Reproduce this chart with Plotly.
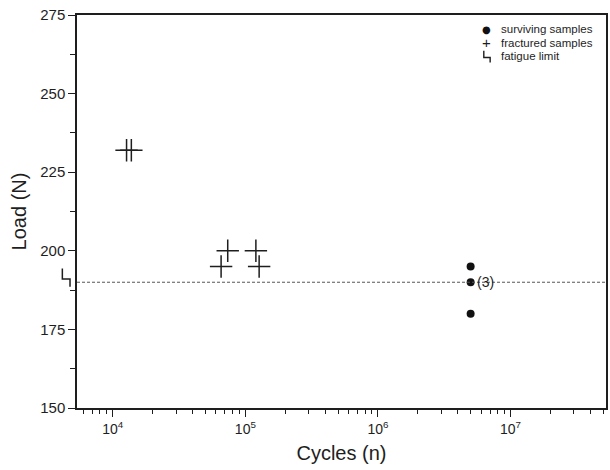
import math
import plotly.graph_objects as go

# ---- data ----
fractured_cycles = [12700, 13800, 73600, 120000, 65600, 127000]
fractured_load = [232, 232, 200, 200, 195, 195]
surviving_cycles = [5.0e6, 5.0e6, 5.0e6]
surviving_load = [195, 190, 180]
fatigue_limit = 190
runout_label = "(3)"

y_ticks = [150, 175, 200, 225, 250, 275]
x_ticks = [1e4, 1e5, 1e6, 1e7]
x_ticktext = ["10<sup>4</sup>", "10<sup>5</sup>", "10<sup>6</sup>", "10<sup>7</sup>"]
legend_labels = ["surviving samples", "fractured samples", "fatigue limit"]

FONT = "Liberation Sans, Arial, sans-serif"
INK = "#1e1e1e"

fig = go.Figure()

fig.add_trace(go.Scatter(
    x=fractured_cycles, y=fractured_load, mode="markers",
    marker=dict(symbol="cross-thin", size=16, line=dict(color=INK, width=1.5)),
    showlegend=False, hoverinfo="x+y"))

fig.add_trace(go.Scatter(
    x=surviving_cycles, y=surviving_load, mode="markers",
    marker=dict(symbol="circle", size=8, color="#111111"),
    showlegend=False, hoverinfo="x+y"))

# fatigue limit line
fig.add_shape(type="line", xref="paper", x0=0, x1=1, yref="y",
              y0=fatigue_limit, y1=fatigue_limit,
              line=dict(color="#555555", width=1, dash="3px,2px"))

# fatigue-limit glyph next to the y axis
fy = fatigue_limit
fig.add_shape(type="path", xref="paper", yref="y",
              path=f"M -0.0277 {fy+4.4} L -0.0277 {fy+1.0} L -0.0132 {fy+1.0} L -0.0132 {fy-1.4}",
              line=dict(color=INK, width=1.5))

# (3) annotation (log axis -> annotation x in log10 units)
fig.add_annotation(x=math.log10(surviving_cycles[1]), y=surviving_load[1], xref="x", yref="y",
                   text=runout_label, showarrow=False, xanchor="left", yanchor="middle",
                   xshift=4, font=dict(family=FONT, size=14, color=INK))

# manual legend
leg_y = [0.964, 0.929, 0.896]
fig.add_annotation(x=0.775, y=leg_y[0], xref="paper", yref="paper", text="●",
                   showarrow=False, xanchor="center", yanchor="middle",
                   font=dict(family="DejaVu Sans", size=10, color="#111111"))
fig.add_annotation(x=0.775, y=leg_y[1], xref="paper", yref="paper", text="+",
                   showarrow=False, xanchor="center", yanchor="middle",
                   font=dict(family=FONT, size=15, color=INK))
fig.add_shape(type="path", xref="paper", yref="paper",
              path=(f"M 0.769 {leg_y[2]+0.013} L 0.769 {leg_y[2]-0.004} "
                    f"L 0.781 {leg_y[2]-0.004} L 0.781 {leg_y[2]-0.017}"),
              line=dict(color=INK, width=1.4))
for lbl, yy in zip(legend_labels, leg_y):
    fig.add_annotation(x=0.797, y=yy, xref="paper", yref="paper", text=lbl,
                       showarrow=False, xanchor="left", yanchor="middle",
                       font=dict(family=FONT, size=11.5, color=INK))

minor_x = [m * 10 ** e for e in range(3, 8) for m in range(2, 10)]

fig.update_layout(
    width=610, height=470,
    margin=dict(l=77, r=2, t=15, b=62),
    paper_bgcolor="white", plot_bgcolor="white",
    font=dict(family=FONT, color=INK),
    showlegend=False,
    xaxis=dict(
        type="log", range=[3.73, 7.72],
        tickvals=x_ticks, ticktext=x_ticktext,
        ticks="outside", ticklen=7, tickwidth=1.3, tickcolor=INK,
        showline=True, linecolor=INK, linewidth=1.5, mirror=True,
        showgrid=False, zeroline=False,
        tickfont=dict(family=FONT, size=14, color=INK),
        title=dict(text="Cycles (n)", font=dict(family=FONT, size=20, color=INK), standoff=10),
        minor=dict(tickvals=minor_x, ticks="outside", ticklen=4, tickwidth=1.2,
                   tickcolor=INK, showgrid=False),
    ),
    yaxis=dict(
        range=[150, 275],
        tickvals=y_ticks,
        ticks="outside", ticklen=7, tickwidth=1.3, tickcolor=INK,
        showline=True, linecolor=INK, linewidth=1.5, mirror=True,
        showgrid=False, zeroline=False,
        tickfont=dict(family=FONT, size=15, color=INK),
        title=dict(text="Load (N)", font=dict(family=FONT, size=20, color=INK), standoff=8),
        minor=dict(dtick=12.5, ticks="outside", ticklen=5, tickwidth=1.2,
                   tickcolor=INK, showgrid=False),
    ),
)

fig.write_html("out.html", config={"displayModeBar": False},
               post_script="document.body.style.margin='0px';")
